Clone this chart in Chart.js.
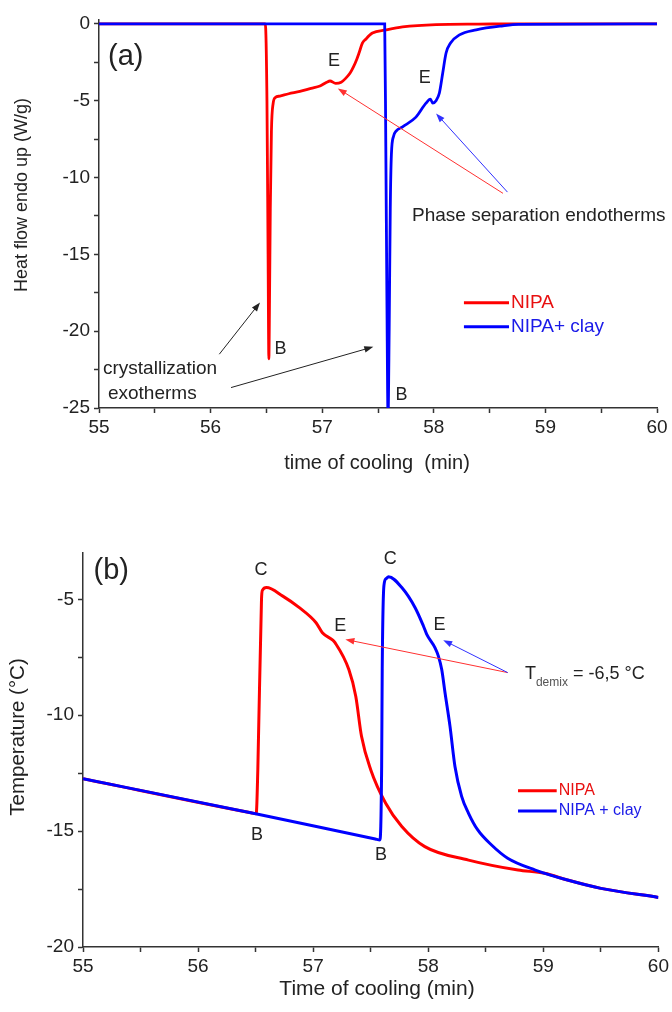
<!DOCTYPE html>
<html>
<head>
<meta charset="utf-8">
<script src="https://cdn.jsdelivr.net/npm/chart.js@4.4.1/dist/chart.umd.min.js"></script>
<style>
body { margin: 0; background: #fff; }
canvas { display: block; }
</style>
</head>
<body>
<canvas id="chartA" width="672" height="500"></canvas>
<canvas id="chartB" width="672" height="512"></canvas>
<script>
// (a) heat flow vs time of cooling
const timeA_nipa = [55, 56.49, 56.505, 56.515, 56.522, 56.528, 56.535, 56.545, 56.56, 56.58, 56.62, 56.7, 56.8, 56.9, 56.98, 57.04, 57.07, 57.12, 57.17, 57.21, 57.25, 57.28, 57.31, 57.33, 57.36, 57.39, 57.45, 57.57, 57.72, 58.02, 58.4, 58.76, 60];
const heatA_nipa = [0, 0, -5, -15, -21.8, -18, -12, -7, -5.2, -4.8, -4.7, -4.55, -4.4, -4.2, -4.05, -3.8, -3.72, -3.87, -3.8, -3.55, -3.2, -2.8, -2.3, -1.9, -1.26, -1.0, -0.6, -0.4, -0.2, -0.05, -0.02, 0, 0];
const timeA_clay = [55, 57.56, 57.57, 57.58, 57.59, 57.6, 57.61, 57.62, 57.64, 57.66, 57.72, 57.84, 57.93, 57.97, 57.99, 58.02, 58.05, 58.08, 58.11, 58.15, 58.23, 58.38, 58.62, 58.76, 60];
const heatA_clay = [0, 0, -8, -18, -25.6, -20, -12, -8.5, -7.3, -7.0, -6.7, -6.07, -5.16, -4.9, -5.16, -5.0, -4.5, -3.2, -1.9, -1.25, -0.72, -0.39, -0.13, -0.04, 0];

// (b) temperature vs time of cooling
const timeB_nipa = [55, 56.46, 56.505, 56.519, 56.551, 56.56, 56.594, 56.736, 56.88, 57.025, 57.08, 57.17, 57.19, 57.31, 57.37, 57.42, 57.5, 57.63, 57.77, 57.97, 58.35, 58.78, 59.01, 59.21, 59.5, 60];
const tempB_nipa = [-12.74, -14.21, -14.25, -12.35, -5.0, -4.6, -4.49, -4.86, -5.36, -6.01, -6.44, -6.76, -6.87, -8.03, -9.18, -10.91, -12.35, -13.8, -14.8, -15.67, -16.25, -16.68, -16.82, -17.11, -17.47, -17.86];
const timeB_clay = [55, 56.5, 57.54, 57.58, 57.595, 57.6, 57.615, 57.635, 57.654, 57.77, 57.886, 57.958, 57.987, 58.059, 58.088, 58.117, 58.146, 58.189, 58.232, 58.29, 58.35, 58.43, 58.55, 58.69, 58.93, 59.21, 59.5, 60];
const tempB_clay = [-12.74, -14.25, -15.34, -15.38, -12.2, -8.0, -4.4, -4.1, -4.02, -4.49, -5.36, -6.15, -6.51, -7.09, -7.45, -8.03, -9.04, -10.48, -12.21, -13.5, -14.23, -14.95, -15.6, -16.17, -16.68, -17.11, -17.47, -17.86];

// ticks
const xTicks = [55, 55.5, 56, 56.5, 57, 57.5, 58, 58.5, 59, 59.5, 60];
const yTicksA = [-25, -22.5, -20, -17.5, -15, -12.5, -10, -7.5, -5, -2.5, 0];
const yTicksB = [-20, -17.5, -15, -12.5, -10, -7.5, -5];

const FONT = '"Liberation Sans", Arial, Helvetica, sans-serif';
const RED = '#ff0000';
const BLUE = '#0000ff';
const INK = '#222222';

function pts(xs, ys) {
    return xs.map((x, i) => ({ x: x, y: ys[i] }));
}

function drawArrow(ctx, x1, y1, x2, y2, color) {
    const a = Math.atan2(y2 - y1, x2 - x1);
    const L = 9, W = 3.2;
    ctx.strokeStyle = color;
    ctx.fillStyle = color;
    ctx.lineWidth = 1;
    ctx.beginPath();
    ctx.moveTo(x1, y1);
    ctx.lineTo(x2 - L * 0.7 * Math.cos(a), y2 - L * 0.7 * Math.sin(a));
    ctx.stroke();
    ctx.beginPath();
    ctx.moveTo(x2, y2);
    ctx.lineTo(x2 - L * Math.cos(a) + W * Math.sin(a), y2 - L * Math.sin(a) - W * Math.cos(a));
    ctx.lineTo(x2 - L * Math.cos(a) - W * Math.sin(a), y2 - L * Math.sin(a) + W * Math.cos(a));
    ctx.closePath();
    ctx.fill();
}

// labels, arrows, legend and axis titles drawn on top of the chart
function makeNotes(cfg) {
    return {
        id: 'notes',
        afterDraw(chart) {
            const ctx = chart.ctx;
            const X = v => chart.scales.x.getPixelForValue(v);
            const Y = v => chart.scales.y.getPixelForValue(v);
            ctx.save();
            cfg.arrows.forEach(a => drawArrow(ctx, X(a.from[0]), Y(a.from[1]), X(a.to[0]), Y(a.to[1]), a.color));

            ctx.textBaseline = 'middle';
            cfg.labels.forEach(l => {
                const y = Y(l.v);
                if (l.parts) {
                    let x = X(l.t);
                    ctx.textAlign = 'left';
                    l.parts.forEach(p => {
                        ctx.font = p.size + 'px ' + FONT;
                        ctx.fillStyle = p.color || INK;
                        ctx.fillText(p.text, x, y + (p.dy || 0));
                        x += ctx.measureText(p.text).width;
                    });
                    return;
                }
                ctx.font = l.size + 'px ' + FONT;
                ctx.fillStyle = l.color || INK;
                ctx.textAlign = l.align || 'center';
                ctx.fillText(l.text, X(l.t), y);
            });

            cfg.legend.forEach(g => {
                const y = Y(g.v);
                ctx.strokeStyle = g.line;
                ctx.lineWidth = 3;
                ctx.beginPath();
                ctx.moveTo(X(g.t1), y);
                ctx.lineTo(X(g.t2), y);
                ctx.stroke();
                ctx.font = cfg.legendSize + 'px ' + FONT;
                ctx.fillStyle = g.color;
                ctx.textAlign = 'left';
                ctx.fillText(g.text, X(g.t2) + 2, y);
            });

            cfg.titles.forEach(t => {
                ctx.font = t.size + 'px ' + FONT;
                ctx.fillStyle = INK;
                ctx.textAlign = 'center';
                ctx.save();
                ctx.translate(t.x, t.y);
                if (t.rotate) ctx.rotate(-Math.PI / 2);
                ctx.fillText(t.text, 0, 0);
                ctx.restore();
            });
            ctx.restore();
        }
    };
}

function scales(yMin, yMax, yTicks, leftW, bottomH) {
    const grid = { display: true, drawOnChartArea: false, drawTicks: true, tickLength: 5, tickColor: '#333', tickWidth: 1.5 };
    const border = { display: true, color: '#333', width: 1.5 };
    const font = { family: FONT, size: 19 };
    return {
        x: {
            type: 'linear', min: 55, max: 60, grid: grid, border: border,
            afterBuildTicks: s => { s.ticks = xTicks.map(v => ({ value: v })); },
            afterFit: s => { s.height = bottomH; },
            ticks: { font: font, color: INK, padding: 3, maxRotation: 0, autoSkip: false,
                callback: v => Number.isInteger(v) ? String(v) : '' }
        },
        y: {
            type: 'linear', min: yMin, max: yMax, grid: grid, border: border,
            afterBuildTicks: s => { s.ticks = yTicks.map(v => ({ value: v })); },
            afterFit: s => { s.width = leftW; },
            ticks: { font: font, color: INK, padding: 4, autoSkip: false,
                callback: v => (Number.isInteger(v) && v % 5 === 0) ? String(v) : '' }
        }
    };
}

function lineSet(label, data, color, order, width) {
    return { label: label, data: data, borderColor: color, backgroundColor: color,
        borderWidth: width, pointRadius: 0, cubicInterpolationMode: 'monotone', order: order };
}

new Chart(document.getElementById('chartA').getContext('2d'), {
    type: 'line',
    data: {
        datasets: [
            lineSet('NIPA', pts(timeA_nipa, heatA_nipa), RED, 1, 2.8),
            lineSet('NIPA+ clay', pts(timeA_clay, heatA_clay), BLUE, 0, 2.8)
        ]
    },
    options: {
        responsive: false,
        animation: false,
        layout: { padding: { left: 0, top: 20, right: 15, bottom: 0 }, autoPadding: false },
        scales: scales(-25, 0.25, yTicksA, 99, 92),
        plugins: { legend: { display: false }, tooltip: { enabled: false } }
    },
    plugins: [makeNotes({
        arrows: [
            { from: [58.62, -11.03], to: [57.14, -4.2], color: '#ff3030' },
            { from: [58.66, -10.95], to: [58.02, -5.83], color: '#3030ff' },
            { from: [56.078, -21.5], to: [56.443, -18.13], color: INK },
            { from: [56.183, -23.67], to: [57.458, -21.02], color: INK }
        ],
        labels: [
            { text: '(a)', t: 55.24, v: -2.15, size: 29 },
            { text: 'E', t: 57.105, v: -2.4, size: 18 },
            { text: 'E', t: 57.92, v: -3.5, size: 18 },
            { text: 'B', t: 56.626, v: -21.18, size: 18 },
            { text: 'B', t: 57.71, v: -24.15, size: 18 },
            { text: 'Phase separation endotherms', t: 57.805, v: -12.5, size: 19, align: 'left' },
            { text: 'crystallization', t: 55.036, v: -22.45, size: 19, align: 'left' },
            { text: 'exotherms', t: 55.08, v: -24.05, size: 19, align: 'left' }
        ],
        legendSize: 19,
        legend: [
            { text: 'NIPA', line: RED, color: '#e81010', t1: 58.27, t2: 58.674, v: -18.15 },
            { text: 'NIPA+ clay', line: BLUE, color: '#1a1ae8', t1: 58.27, t2: 58.674, v: -19.71 }
        ],
        titles: [
            { text: 'time of cooling  (min)', x: 377, y: 463, size: 20 },
            { text: 'Heat flow endo up (W/g)', x: 22, y: 195, size: 18, rotate: true }
        ]
    })]
});

new Chart(document.getElementById('chartB').getContext('2d'), {
    type: 'line',
    data: {
        datasets: [
            lineSet('NIPA', pts(timeB_nipa, tempB_nipa), RED, 1, 3),
            lineSet('NIPA + clay', pts(timeB_clay, tempB_clay), BLUE, 0, 3)
        ]
    },
    options: {
        responsive: false,
        animation: false,
        layout: { padding: { left: 0, top: 53, right: 12, bottom: 0 }, autoPadding: false },
        scales: scales(-20, -3, yTicksB, 83, 65),
        plugins: { legend: { display: false }, tooltip: { enabled: false } }
    },
    plugins: [makeNotes({
        arrows: [
            { from: [58.69, -8.16], to: [57.28, -6.73], color: '#ff3030' },
            { from: [58.69, -8.16], to: [58.13, -6.76], color: '#3030ff' }
        ],
        labels: [
            { text: '(b)', t: 55.245, v: -3.79, size: 29 },
            { text: 'C', t: 56.547, v: -3.75, size: 18 },
            { text: 'C', t: 57.67, v: -3.27, size: 18 },
            { text: 'E', t: 57.236, v: -6.17, size: 18 },
            { text: 'E', t: 58.098, v: -6.1, size: 18 },
            { text: 'B', t: 56.512, v: -15.16, size: 18 },
            { text: 'B', t: 57.59, v: -16.03, size: 18 },
            { t: 58.84, v: -8.24, parts: [
                { text: 'T', size: 18 },
                { text: 'demix', size: 12, dy: 8, color: '#555' },
                { text: ' = -6,5 °C', size: 18 }
            ] }
        ],
        legendSize: 16,
        legend: [
            { text: 'NIPA', line: RED, color: '#e81010', t1: 58.78, t2: 59.116, v: -13.26 },
            { text: 'NIPA + clay', line: BLUE, color: '#1a1ae8', t1: 58.78, t2: 59.116, v: -14.13 }
        ],
        titles: [
            { text: 'Time of cooling (min)', x: 377, y: 489, size: 21 },
            { text: 'Temperature (°C)', x: 18, y: 237, size: 20.5, rotate: true }
        ]
    })]
});
</script>
</body>
</html>
